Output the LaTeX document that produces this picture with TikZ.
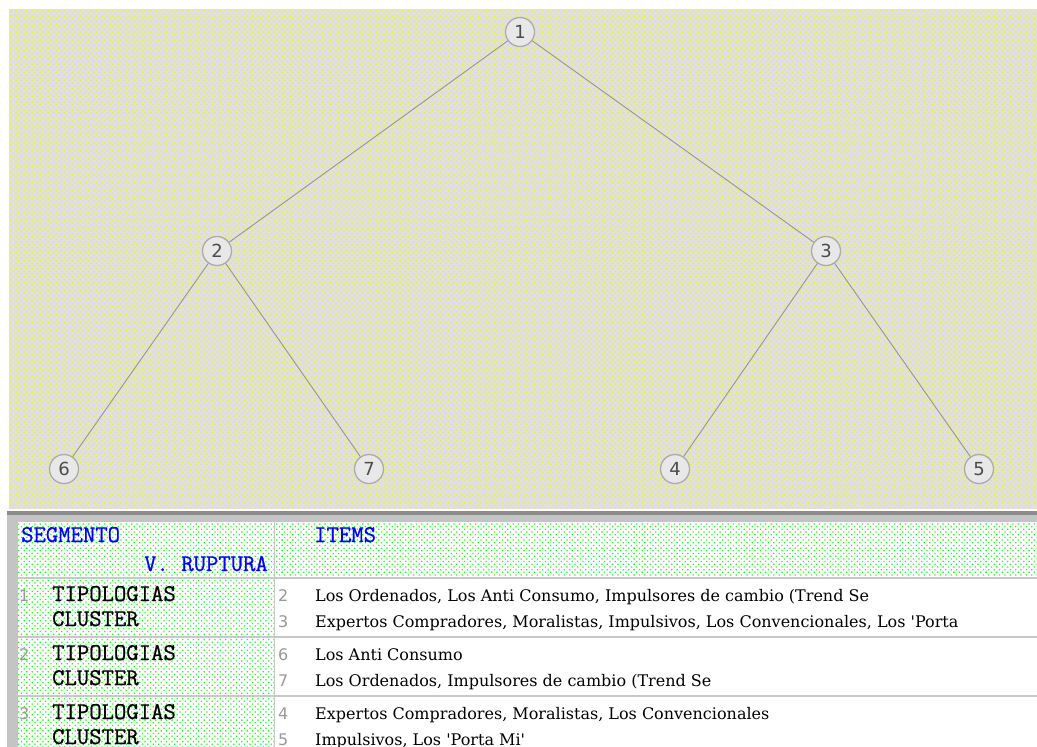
\documentclass[tikz,border=0pt]{standalone}
\usepackage{fontspec}
\setmainfont{DejaVu Serif}
\newfontfamily\segfont[FakeBold=0.8]{Latin Modern Mono}
\newfontfamily\numfont{DejaVu Sans}
\usetikzlibrary{patterns.meta, positioning}
\definecolor{panelgray}{RGB}{224,224,220}
\definecolor{dotyel}{RGB}{236,236,60}
\definecolor{dotgrn}{RGB}{40,245,40}
\definecolor{framegray}{RGB}{196,196,196}
\definecolor{framedark}{RGB}{140,140,140}
\definecolor{rulegray}{RGB}{200,200,200}
\definecolor{edgegray}{RGB}{150,150,150}
\definecolor{hdrblue}{RGB}{0,0,255}
\tikzset{
  tnode/.style={circle, draw=black!33, fill=black!9, line width=1.3pt,
                minimum size=29pt, inner sep=0pt,
                font=\numfont\fontsize{18}{18}\selectfont, text=black!70},
  tedge/.style={draw=edgegray, line width=0.9pt},
  dotfill/.style={pattern={Dots[angle=45, distance=3.8pt, radius=0.9pt]}},
  seg/.style={anchor=base west, inner sep=0pt,
              font=\segfont\fontsize{24}{24}\selectfont},
  hdr/.style={seg, text=hdrblue},
  item/.style={anchor=base west, inner sep=0pt,
               font=\fontsize{16}{16}\selectfont},
  rownum/.style={anchor=base west, inner sep=0pt,
                 font=\numfont\fontsize{16}{16}\selectfont, text=black!40},
  rowline/.style={draw=rulegray, line width=1.6pt},
}
\begin{document}
\begin{tikzpicture}[x=1pt, y=-1pt]
  \useasboundingbox (0,0) rectangle (1037,747);
  \clip (0,0) rectangle (1037,747);

  % tree panel
  \fill[panelgray] (9,9) rectangle (1037,509);
  \fill[dotfill, pattern color=dotyel] (9,9) rectangle (1037,509);

  % table frame and cells
  \fill[framegray] (7,511) rectangle (1037,747);
  \fill[framedark] (7,511) rectangle (1037,515);
  \fill[white] (18,522) rectangle (1037,747);
  \fill[dotfill, pattern color=dotgrn] (18,522) rectangle (274,747);
  \fill[dotfill, pattern color=dotgrn] (274,522) rectangle (1037,578);
  \foreach \y in {578,637,696}
    \draw[rowline] (18,\y) -- (1037,\y);
  \draw[rowline] (274.5,522) -- (274.5,747);

  % tree
  \node[tnode] (n1) at (520,32) {1};
  \node[tnode] (n2) at (217,251) {2};
  \node[tnode] (n3) at (826,251) {3};
  \node[tnode] (n6) at (64,469) {6};
  \node[tnode] (n7) at (369,469) {7};
  \node[tnode] (n4) at (675,469) {4};
  \node[tnode] (n5) at (979,469) {5};
  \foreach \a/\b in {n1/n2, n1/n3, n2/n6, n2/n7, n3/n4, n3/n5}
    \draw[tedge] (\a) -- (\b);

  % table header
  \node[hdr] (seg) at (21,542) {SEGMENTO};
  \node[hdr, anchor=base east] (rup) at (268,571) {V. RUPTURA};
  \node[hdr] (items) at (314,542) {ITEMS};

  % table rows
  \foreach \n/\dy/\a/\b/\ta/\tb in {
      1/0/2/3/{Los Ordenados, Los Anti Consumo, Impulsores de cambio (Trend Se}/{Expertos Compradores, Moralistas, Impulsivos, Los Convencionales, Los \textquotesingle Porta},
      2/59/6/7/{Los Anti Consumo}/{Los Ordenados, Impulsores de cambio (Trend Se},
      3/118/4/5/{Expertos Compradores, Moralistas, Los Convencionales}/{Impulsivos, Los \textquotesingle Porta Mi\textquotesingle}} {
    \node[rownum] (rn\n) at (19,601+\dy) {\n};
    \node[seg] (typ\n) at (52,601+\dy) {TIPOLOGIAS};
    \node[seg] (clu\n) at (52,626+\dy) {CLUSTER};
    \node[rownum] (in\a) at (278,601+\dy) {\a};
    \node[rownum] (in\b) at (278,627+\dy) {\b};
    \node[item] (it\a) at (315,601+\dy) {\ta};
    \node[item] (it\b) at (315,627+\dy) {\tb};
  }
\end{tikzpicture}
\end{document}
